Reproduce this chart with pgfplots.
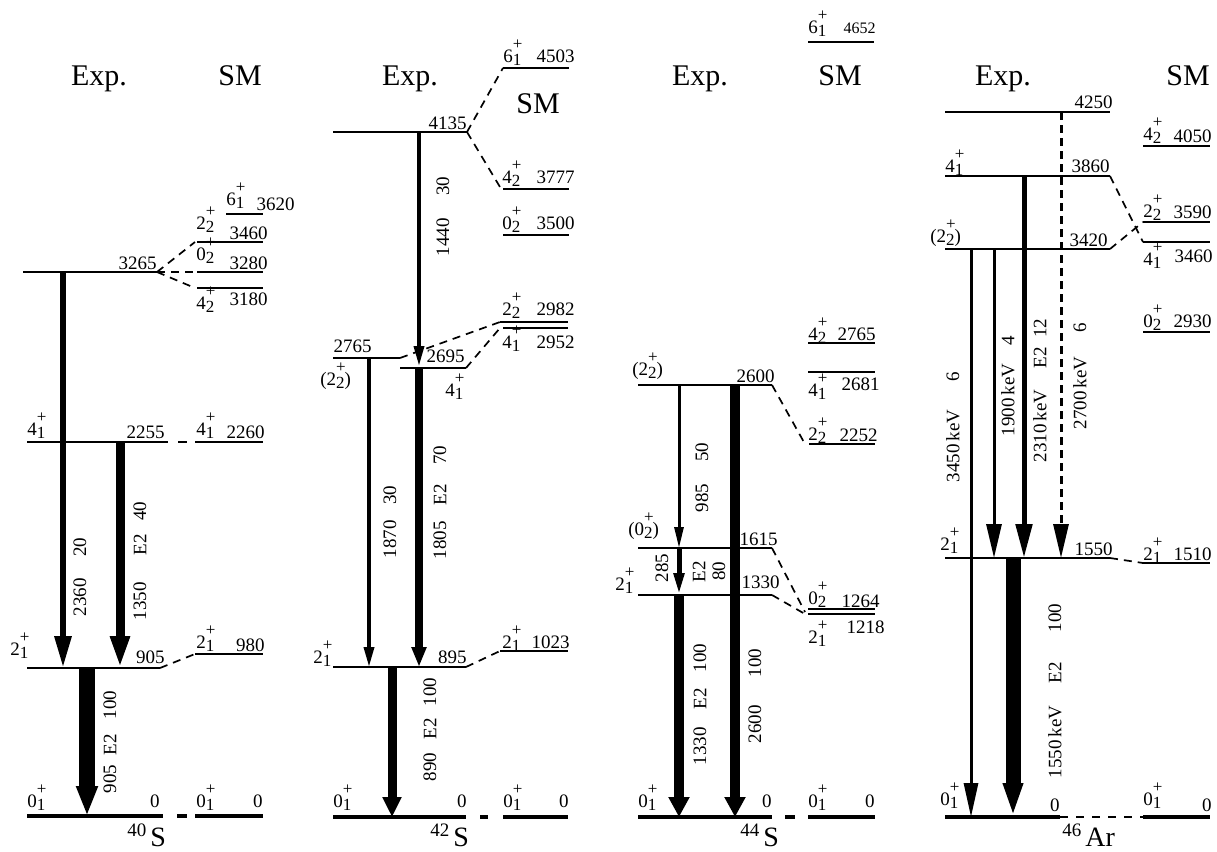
\documentclass[border=0pt]{standalone}
\usepackage{fontspec}
\setmainfont{Liberation Serif}
\usepackage{pgfplots}
\pgfplotsset{compat=1.18}
\usetikzlibrary{arrows.meta}
\newcommand\lvf{\fontsize{9.5}{10}\selectfont}
\newcommand\ssz{\fontsize{8.5}{8.5}\selectfont}
\newcommand\J[3]{#1\makebox[0pt][l]{\raisebox{6.3pt}{\ssz #3}}\raisebox{-1.8pt}{\ssz #2}}
\newcommand\LV[4][lev]{\addplot[#1] coordinates {(#2,#4) (#3,#4)};}
\newcommand\DS[4]{\addplot[dsh] coordinates {(#1,#2) (#3,#4)};}
\newcommand\AR[6]{\addplot[line width=#4pt,-{Triangle[length=#5pt,width=#6pt]}] coordinates {(#1,#2) (#1,#3)};}
\newcommand\EL[3]{\node[anchor=base east,font=\lvf,inner sep=0pt] at (axis cs:#1,#2) {#3};}
\newcommand\SL[3]{\node[anchor=base west,font=\lvf,inner sep=0pt] at (axis cs:#1,#2) {#3};}
\newcommand\RL[3]{\node[rotate=90,font=\lvf,inner sep=0pt] at (axis cs:#1,#2) {#3};}
\newcommand\HD[3]{\node[anchor=base,font=\fontsize{15}{15}\selectfont,inner sep=0pt] at (axis cs:#1,#2) {#3};}
\newcommand\ISO[4]{\node[anchor=base west,inner sep=0pt] at (axis cs:#1,#2) {\raisebox{5pt}{\fontsize{9.5}{9.5}\selectfont #3}\kern2pt\fontsize{14}{14}\selectfont #4};}
\begin{document}
\begin{tikzpicture}
\begin{axis}[width=608.5pt,height=426pt,scale only axis,xmin=0,xmax=1217,ymin=0,ymax=852,
 y dir=reverse,hide axis,clip=false,no markers,
 lev/.style={line width=0.85pt},
 gnd/.style={line width=1.6pt},
 dsh/.style={line width=0.85pt,dash pattern=on 4pt off 3pt}]
\addplot[draw=none] coordinates {(0,0) (1217,852)};
% ---------------- 40S
\LV[gnd]{27}{163}{816}
\LV[gnd]{177}{187}{816}
\LV[gnd]{195}{263}{816}
\LV{27}{160}{668}
\LV{195}{263}{654}
\LV{27}{168}{442}
\LV{178}{187}{442}
\LV{195}{263}{442}
\LV{23}{157}{272}
\LV{226}{263}{214}
\LV{197}{263}{242}
\LV{197}{263}{272}
\LV{197}{263}{288}
\DS{160}{668}{195}{654}
\DS{157}{272}{195}{242}
\DS{157}{272}{195}{272}
\DS{157}{272}{195}{288}
\AR{63}{272}{668}{3}{16}{8}
\AR{120}{442}{668}{4.5}{16}{9}
\AR{87}{668}{816}{8}{15}{10}
\EL{160}{807}{0}
\EL{165}{663}{905}
\EL{165}{438}{2255}
\EL{157}{269}{3265}
\EL{263}{807}{0}
\EL{265}{651}{980}
\EL{265}{438}{2260}
\EL{268}{305}{3180}
\EL{268}{269}{3280}
\EL{268}{239}{3460}
\EL{295}{210}{3620}
\SL{27}{807}{\J{0}{1}{+}}
\SL{196}{807}{\J{0}{1}{+}}
\SL{10}{655}{\J{2}{1}{+}}
\SL{196}{648}{\J{2}{1}{+}}
\SL{27}{435}{\J{4}{1}{+}}
\SL{196}{435}{\J{4}{1}{+}}
\SL{226}{205}{\J{6}{1}{+}}
\SL{196}{229}{\J{2}{2}{+}}
\SL{196}{260}{\J{0}{2}{+}}
\SL{196}{309}{\J{4}{2}{+}}
\RL{80}{547}{20}
\RL{80}{597}{2360}
\RL{140}{511}{40}
\RL{140}{545}{E2}
\RL{140}{601}{1350}
\RL{110}{705}{100}
\RL{110}{745}{E2}
\RL{110}{779}{905}
\HD{99}{85}{Exp.}
\HD{240}{85}{SM}
\ISO{127}{846}{40}{S}
% ---------------- 42S
\LV{503}{569}{68}
\LV{333}{467}{132}
\LV{503}{569}{189}
\LV{503}{569}{235}
\LV{500}{568}{322}
\LV{503}{568}{328}
\LV{333}{400}{358}
\LV{400}{466}{368}
\LV{333}{466}{667}
\LV{500}{568}{651}
\LV[gnd]{333}{466}{817}
\LV[gnd]{480}{488}{817}
\LV[gnd]{503}{568}{817}
\DS{467}{132}{503}{68}
\DS{467}{132}{500}{187}
\DS{400}{358}{500}{322}
\DS{466}{368}{500}{328}
\DS{466}{667}{500}{651}
\AR{419}{132}{366}{1.75}{10}{5}
\AR{369}{358}{667}{1.75}{10}{5}
\AR{419}{368}{667}{4}{10}{7}
\AR{392}{667}{817}{4.5}{10}{9}
\EL{575}{62}{4503}
\SL{503}{62}{\J{6}{1}{+}}
\EL{467}{129}{4135}
\EL{575}{183}{3777}
\SL{502}{183}{\J{4}{2}{+}}
\EL{575}{229}{3500}
\SL{502}{229}{\J{0}{2}{+}}
\EL{575}{315}{2982}
\SL{502}{315}{\J{2}{2}{+}}
\EL{575}{348}{2952}
\SL{502}{348}{\J{4}{1}{+}}
\EL{372}{352}{2765}
\SL{320}{385}{(\J{2}{2}{+})}
\EL{465}{362}{2695}
\SL{445}{396}{\J{4}{1}{+}}
\EL{467}{663}{895}
\SL{313}{663}{\J{2}{1}{+}}
\EL{570}{648}{1023}
\SL{502}{648}{\J{2}{1}{+}}
\EL{467}{807}{0}
\SL{333}{807}{\J{0}{1}{+}}
\SL{503}{807}{\J{0}{1}{+}}
\EL{569}{807}{0}
\RL{443}{186}{30}
\RL{443}{237}{1440}
\RL{390}{495}{30}
\RL{390}{539}{1870}
\RL{440}{455}{70}
\RL{440}{495}{E2}
\RL{440}{540}{1805}
\RL{430}{692}{100}
\RL{430}{729}{E2}
\RL{430}{767}{890}
\HD{410}{85}{Exp.}
\HD{538}{113}{SM}
\ISO{430}{846}{42}{S}
% ---------------- 44S
\LV{808}{874}{42}
\LV{808}{875}{343}
\LV{808}{875}{372}
\LV{638}{772}{385}
\LV{809}{875}{444}
\LV{638}{772}{548}
\LV{638}{772}{595}
\LV{808}{875}{609}
\LV{808}{875}{614}
\LV[gnd]{638}{772}{817}
\LV[gnd]{785}{795}{817}
\LV[gnd]{808}{875}{817}
\DS{772}{385}{805}{444}
\DS{772}{548}{805}{612}
\DS{772}{595}{805}{614}
\AR{679}{385}{548}{1.5}{10.5}{4.5}
\AR{679}{548}{595}{2.5}{11}{5}
\AR{679}{595}{817}{5}{10}{10}
\AR{735}{385}{817}{5}{10}{10}
\EL{876}{33}{\fontsize{8}{8}\selectfont 4652}
\SL{808}{33}{\J{6}{1}{+}}
\EL{876}{340}{2765}
\SL{808}{340}{\J{4}{2}{+}}
\EL{880}{390}{2681}
\SL{808}{396}{\J{4}{1}{+}}
\EL{878}{441}{2252}
\SL{808}{440}{\J{2}{2}{+}}
\EL{775}{382}{2600}
\SL{632}{375}{(\J{2}{2}{+})}
\EL{778}{545}{1615}
\SL{628}{535}{(\J{0}{2}{+})}
\EL{780}{588}{1330}
\SL{615}{590}{\J{2}{1}{+}}
\EL{880}{607}{1264}
\SL{808}{604}{\J{0}{2}{+}}
\EL{885}{633}{1218}
\SL{808}{643}{\J{2}{1}{+}}
\SL{638}{807}{\J{0}{1}{+}}
\EL{772}{807}{0}
\SL{808}{807}{\J{0}{1}{+}}
\EL{875}{807}{0}
\RL{702}{452}{50}
\RL{702}{498}{985}
\RL{662}{568}{285}
\RL{699}{572}{E2}
\RL{719}{571}{80}
\RL{700}{658}{100}
\RL{700}{699}{E2}
\RL{700}{746}{1330}
\RL{755}{663}{100}
\RL{755}{724}{2600}
\HD{700}{85}{Exp.}
\HD{840}{85}{SM}
\ISO{740}{846}{44}{S}
% ---------------- 46Ar
\LV{945}{1110}{112}
\LV{1143}{1210}{146}
\LV{945}{1110}{176}
\LV{1143}{1210}{222}
\LV{1143}{1210}{242}
\LV{945}{1110}{249}
\LV{1143}{1210}{332}
\LV{945}{1110}{558}
\LV{1143}{1210}{563}
\LV[gnd]{945}{1060}{817}
\LV[gnd]{1143}{1210}{817}
\DS{1110}{176}{1143}{242}
\DS{1110}{249}{1143}{222}
\DS{1110}{558}{1143}{563}
\addplot[line width=1.2pt,dash pattern=on 4pt off 4pt] coordinates {(1060,817) (1143,817)};
\AR{971}{249}{817}{1.5}{17}{7}
\AR{994}{249}{558}{1.5}{17}{7.5}
\AR{1024}{176}{558}{2.5}{17}{8}
\addplot[line width=1.5pt,dash pattern=on 4pt off 2.5pt,-{Triangle[length=17pt,width=7.5pt]}] coordinates {(1061,112) (1061,558)};
\AR{1013}{558}{817}{7.5}{17}{9}
\EL{1113}{108}{4250}
\SL{1143}{140}{\J{4}{2}{+}}
\EL{1212}{142}{4050}
\SL{945}{172}{\J{4}{1}{+}}
\EL{1110}{172}{3860}
\SL{1143}{217}{\J{2}{2}{+}}
\EL{1212}{218}{3590}
\SL{930}{242}{(\J{2}{2}{+})}
\EL{1108}{246}{3420}
\SL{1143}{265}{\J{4}{1}{+}}
\EL{1213}{262}{3460}
\SL{1143}{327}{\J{0}{2}{+}}
\EL{1212}{327}{2930}
\SL{940}{550}{\J{2}{1}{+}}
\EL{1113}{555}{1550}
\SL{1143}{560}{\J{2}{1}{+}}
\EL{1212}{560}{1510}
\SL{940}{805}{\J{0}{1}{+}}
\EL{1060}{811}{0}
\SL{1143}{805}{\J{0}{1}{+}}
\EL{1212}{811}{0}
\RL{953}{377}{6}
\RL{953}{446}{3450\,keV}
\RL{1008}{341}{4}
\RL{1008}{400}{1900\,keV}
\RL{1040}{328}{12}
\RL{1040}{358}{E2}
\RL{1040}{426}{2310\,keV}
\RL{1080}{328}{6}
\RL{1080}{393}{2700\,keV}
\RL{1055}{618}{100}
\RL{1055}{673}{E2}
\RL{1055}{742}{1550\,keV}
\HD{1003}{85}{Exp.}
\HD{1188}{85}{SM}
\ISO{1062}{846}{46}{Ar}
\end{axis}
\end{tikzpicture}
\end{document}
